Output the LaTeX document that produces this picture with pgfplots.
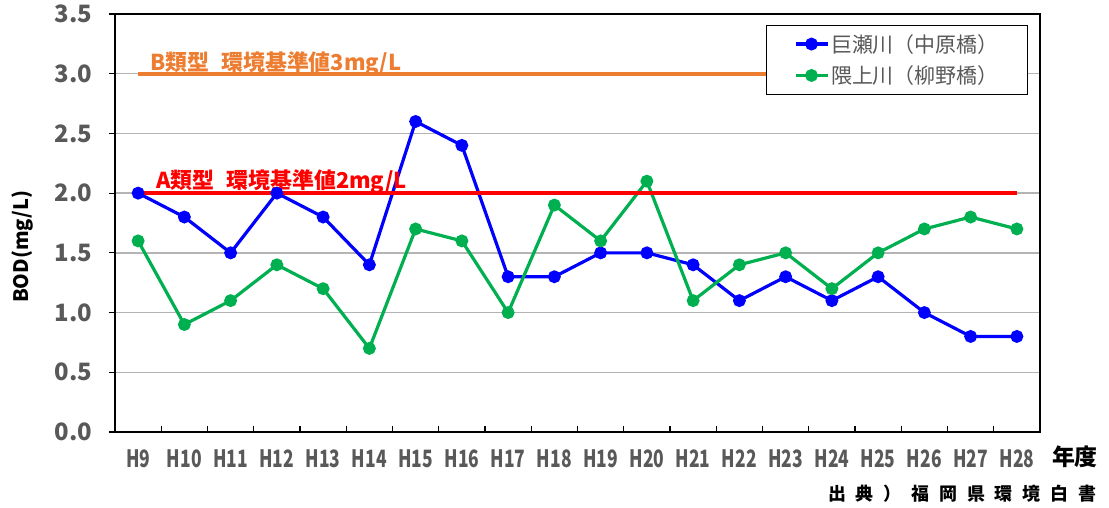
\documentclass[border=0pt]{standalone}
\usepackage{pgfplots}
\pgfplotsset{compat=1.18}
\usepackage{fontspec}
\usepackage{graphicx}
\setmainfont{Noto Sans CJK JP}
\definecolor{bl}{RGB}{0,0,255}
\definecolor{gr}{RGB}{0,176,80}
\definecolor{org}{RGB}{237,125,49}
\definecolor{tk}{RGB}{89,89,89}
\definecolor{grd}{RGB}{180,180,180}
\newcommand{\cx}[1]{\scalebox{0.73}[1]{#1}}
\begin{document}
\begin{tikzpicture}
\useasboundingbox (-115bp,-76bp) rectangle (994bp,432bp);
\begin{axis}[
  at={(0,0)}, anchor=south west, scale only axis,
  width=925bp, height=418bp,
  xmin=-0.5, xmax=19.5, ymin=0, ymax=3.5,
  axis line style={black, line width=1.3bp},
  xtick={0.5,1.5,...,18.5}, xticklabels={},
  extra x ticks={0,1,...,19},
  extra x tick labels={\cx{H9},\cx{H10},\cx{H11},\cx{H12},\cx{H13},\cx{H14},\cx{H15},\cx{H16},\cx{H17},\cx{H18},\cx{H19},\cx{H20},\cx{H21},\cx{H22},\cx{H23},\cx{H24},\cx{H25},\cx{H26},\cx{H27},\cx{H28}},
  extra x tick style={major tick length=0pt},
  xtick pos=bottom, ytick pos=left,
  xtick align=inside, ytick align=outside,
  major tick length=6bp,
  tick style={line width=1.2bp, black},
  ytick={0,0.5,...,3.5},
  yticklabels={0.0,0.5,1.0,1.5,2.0,2.5,3.0,3.5},
  x tick label style={font=\bfseries\fontsize{24}{24}\selectfont, text=tk, yshift=-14bp},
  y tick label style={font=\bfseries\fontsize{24}{24}\selectfont, text=tk, xshift=-13bp},
  ymajorgrids, major grid style={draw=grd, line width=1.3bp},
  ylabel={BOD(mg/L)},
  ylabel style={at={(axis description cs:-0.1005,0.443)}, anchor=center, rotate=0, font=\bfseries\fontsize{20}{20}\selectfont, text=black},
  xlabel={年度},
  xlabel style={at={(axis description cs:1.0378,-0.0598)}, anchor=center, font=\bfseries\fontsize{23}{23}\selectfont, text=black},
  legend style={at={(rel axis cs:0.987,0.974)}, anchor=north east, draw=black, line width=1bp,
    font=\fontsize{21}{21}\selectfont, text=tk, inner xsep=27bp, inner ysep=7bp, row sep=8bp, cells={anchor=west}},
  legend image code/.code={\draw[mark repeat=2,mark phase=2,#1] plot coordinates {(0bp,0bp) (16bp,0bp) (32bp,0bp)};},
]
\addplot[color=bl, line width=3.2bp, mark=*, mark size=4.8bp, mark options={solid}] coordinates {
(0,2.0) (1,1.8) (2,1.5) (3,2.0) (4,1.8) (5,1.4) (6,2.6) (7,2.4) (8,1.3) (9,1.3)
(10,1.5) (11,1.5) (12,1.4) (13,1.1) (14,1.3) (15,1.1) (16,1.3) (17,1.0) (18,0.8) (19,0.8)};
\addlegendentry{巨瀬川（中原橋）}
\addplot[color=gr, line width=3.2bp, mark=*, mark size=4.8bp, mark options={solid}] coordinates {
(0,1.6) (1,0.9) (2,1.1) (3,1.4) (4,1.2) (5,0.7) (6,1.7) (7,1.6) (8,1.0) (9,1.9)
(10,1.6) (11,2.1) (12,1.1) (13,1.4) (14,1.5) (15,1.2) (16,1.5) (17,1.7) (18,1.8) (19,1.7)};
\addlegendentry{隈上川（柳野橋）}
\addplot[color=org, line width=4bp, forget plot] coordinates {(0,3) (19,3)};
\addplot[color=red, line width=4bp, forget plot] coordinates {(0,2) (19,2)};
\node[anchor=base west, inner sep=0pt, text=org, font=\bfseries\fontsize{22}{22}\selectfont, yshift=3bp] at (axis cs:0.257,3) {B類型\hspace{12bp}環境基準値3mg/L};
\node[anchor=base west, inner sep=0pt, text=red, font=\bfseries\fontsize{22}{22}\selectfont, yshift=5bp] at (axis cs:0.386,2) {A類型\hspace{12bp}環境基準値2mg/L};
\end{axis}
\node[anchor=west, inner sep=0pt, font=\bfseries\fontsize{18}{18}\selectfont\addfontfeature{LetterSpace=55}] at (713bp,-62bp) {出典）福岡県環境白書};
\end{tikzpicture}
\end{document}
